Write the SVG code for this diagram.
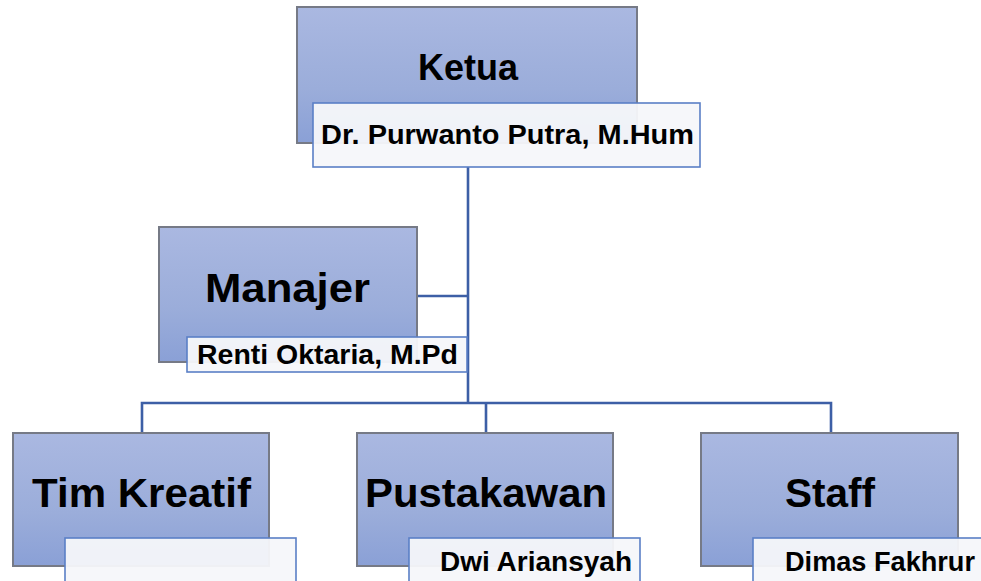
<svg xmlns="http://www.w3.org/2000/svg" width="981" height="581" viewBox="0 0 981 581">
<defs>
<linearGradient id="g" x1="0" y1="0" x2="0" y2="1">
<stop offset="0" stop-color="#aab8e1"/>
<stop offset="0.6" stop-color="#9badda"/>
<stop offset="1" stop-color="#8aa0d6"/>
</linearGradient>
</defs>
<style>
.box{fill:url(#g);stroke:#767a86;stroke-width:2}
.lab{fill:#f6f7fa;fill-opacity:0.95;stroke:#5a7fc6;stroke-width:1.6}
.t{font-family:"Liberation Sans",Arial,sans-serif;font-weight:bold;fill:#000}
.big{font-size:40px}
.sm{font-size:27px}
.conn{fill:none;stroke:#3d5fa6;stroke-width:2.6}
</style>
<g id="connectors">
<path class="conn" d="M468 167V403"/>
<path class="conn" d="M417 296H468"/>
<path class="conn" d="M142 433V403H831V433"/>
<path class="conn" d="M486 403V433"/>
</g>
<g id="ketua">
<rect class="box" x="297" y="7" width="340" height="136"/>
<text class="t" x="468" y="80" font-size="37" text-anchor="middle" textLength="100" lengthAdjust="spacingAndGlyphs">Ketua</text>
<rect class="lab" x="313" y="103" width="387" height="64"/>
<text class="t sm" x="321" y="144" textLength="373" lengthAdjust="spacingAndGlyphs">Dr. Purwanto Putra, M.Hum</text>
</g>
<g id="manajer">
<rect class="box" x="159" y="227" width="258" height="135"/>
<text class="t big" x="205" y="302" textLength="165" lengthAdjust="spacingAndGlyphs">Manajer</text>
<rect class="lab" x="187" y="337" width="280" height="35"/>
<text class="t sm" x="197" y="364" textLength="261" lengthAdjust="spacingAndGlyphs">Renti Oktaria, M.Pd</text>
</g>
<g id="tim-kreatif">
<rect class="box" x="13" y="433" width="256" height="133"/>
<text class="t big" x="32" y="507" textLength="219" lengthAdjust="spacingAndGlyphs">Tim Kreatif</text>
<rect class="lab" x="65" y="538" width="231" height="60"/>
</g>
<g id="pustakawan">
<rect class="box" x="357" y="433" width="256" height="133"/>
<text class="t big" x="365" y="507" textLength="242" lengthAdjust="spacingAndGlyphs">Pustakawan</text>
<rect class="lab" x="409" y="538" width="231" height="60"/>
<text class="t sm" x="440" y="571" textLength="192" lengthAdjust="spacingAndGlyphs">Dwi Ariansyah</text>
</g>
<g id="staff">
<rect class="box" x="701" y="433" width="257" height="133"/>
<text class="t big" x="785" y="507" textLength="90" lengthAdjust="spacingAndGlyphs">Staff</text>
<rect class="lab" x="753" y="538" width="240" height="60"/>
<text class="t sm" x="785" y="571" textLength="190" lengthAdjust="spacingAndGlyphs">Dimas Fakhrur</text>
</g>
</svg>
